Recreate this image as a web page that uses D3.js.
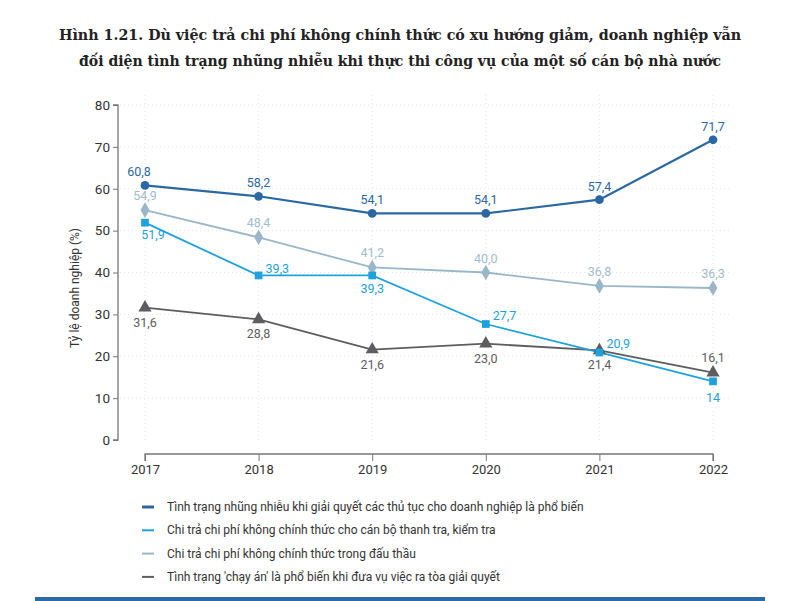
<!DOCTYPE html>
<html><head><meta charset="utf-8">
<script src="https://cdn.jsdelivr.net/npm/d3@7"></script>
<style>body{margin:0;background:#fff}svg{display:block}</style>
</head><body>
<svg id="c" width="800" height="601"></svg>
<script>
const years = ["2017","2018","2019","2020","2021","2022"];
const yTicks = [0,10,20,30,40,50,60,70,80];
const titleLines = ["Hình 1.21. Dù việc trả chi phí không chính thức có xu hướng giảm, doanh nghiệp vẫn",
                    "đối diện tình trạng nhũng nhiễu khi thực thi công vụ của một số cán bộ nhà nước"];
const yLabel = "Tỷ lệ doanh nghiệp (%)";
const seriesNames = ["Tình trạng nhũng nhiễu khi giải quyết các thủ tục cho doanh nghiệp là phổ biến",
  "Chi trả chi phí không chính thức cho cán bộ thanh tra, kiểm tra",
  "Chi trả chi phí không chính thức trong đấu thầu",
  "Tình trạng 'chạy án' là phổ biến khi đưa vụ việc ra tòa giải quyết"];
const s1 = [60.8,58.2,54.1,54.1,57.4,71.7];
const s2 = [51.9,39.3,39.3,27.7,20.9,14];
const s3 = [54.9,48.4,41.2,40.0,36.8,36.3];
const s4 = [31.6,28.8,21.6,23.0,21.4,16.1];
const s1Labels = ["60,8","58,2","54,1","54,1","57,4","71,7"];
const s2Labels = ["51,9","39,3","39,3","27,7","20,9","14"];
const s3Labels = ["54,9","48,4","41,2","40,0","36,8","36,3"];
const s4Labels = ["31,6","28,8","21,6","23,0","21,4","16,1"];

const colors = ["#2b68a3","#1ea2dd","#9ab6c9","#5d5d5f"];
const svg = d3.select("#c");
const font = "'Roboto',sans-serif";

// title
svg.append("g").selectAll("text").data(titleLines).join("text")
  .attr("x",400).attr("y",(d,i)=>40+i*26).attr("text-anchor","middle")
  .attr("font-family","'DejaVu Serif',serif").attr("font-weight","bold")
  .attr("font-size",15.5).attr("fill","#222").attr("textLength",(d,i)=>i?642:682)
  .attr("lengthAdjust","spacingAndGlyphs").text(d=>d);

const x = d3.scalePoint().domain(years).range([145,713]);
const y = d3.scaleLinear().domain([0,80]).range([440,105]);

// grid
const grid = svg.append("g").attr("stroke","#e2e6ea").attr("stroke-dasharray","1,3").attr("stroke-width",1);
grid.selectAll("line.h").data(yTicks.slice(1)).join("line")
  .attr("x1",120).attr("x2",730).attr("y1",d=>y(d)).attr("y2",d=>y(d));
grid.selectAll("line.v").data(years).join("line")
  .attr("x1",d=>x(d)).attr("x2",d=>x(d)).attr("y1",95).attr("y2",440);

// y axis
const ya = svg.append("g").attr("transform","translate(118,0)")
  .call(d3.axisLeft(y).tickValues(yTicks).tickSize(5).tickPadding(3));
ya.select(".domain").attr("stroke","#777").attr("stroke-width",1.3).attr("d","M-5,105H0V440H-5");
ya.selectAll(".tick line").attr("stroke","#777");
ya.selectAll("text").attr("font-family",font).attr("font-size",13.5).attr("fill","#333");

// x axis
const xa = svg.append("g").attr("transform","translate(0,454)")
  .call(d3.axisBottom(x).tickSize(7).tickPadding(4));
xa.select(".domain").attr("stroke","#777").attr("stroke-width",1.3).attr("d","M145,7V0H713V7");
xa.selectAll(".tick line").attr("stroke","#777");
xa.selectAll("text").attr("font-family",font).attr("font-size",13).attr("fill","#333");

// y label
svg.append("text").attr("transform","translate(79,288) rotate(-90)").attr("text-anchor","middle")
  .attr("font-family",font).attr("font-size",12).attr("fill","#333").text(yLabel);

const line = d3.line().x((d,i)=>x(years[i])).y(d=>y(d));
const data = [s1,s2,s3,s4];
const labels = [s1Labels,s2Labels,s3Labels,s4Labels];
[3,2,1,0].forEach(k=>{
  svg.append("path").datum(data[k]).attr("d",line).attr("fill","none")
    .attr("stroke",colors[k]).attr("stroke-width",k===0?2.2:1.8);
});
const shapes = [d3.symbolCircle,d3.symbolSquare,d3.symbolDiamond,d3.symbolTriangle];
const sizes = [60,60,70,75];
[3,2,1,0].forEach(k=>{
  svg.append("g").selectAll("path").data(data[k]).join("path")
    .attr("transform",(d,i)=>`translate(${x(years[i])},${y(d)})`)
    .attr("d",d3.symbol().type(shapes[k]).size(sizes[k]))
    .attr("fill",colors[k]);
});

const off = [
  [[-6,-9,"middle"],[0,-9,"middle"],[0,-9,"middle"],[0,-9,"middle"],[0,-9,"middle"],[0,-9,"middle"]],
  [[8,16,"middle"],[7,-2,"start"],[0,18,"middle"],[7,-4,"start"],[7,-4,"start"],[0,21,"middle"]],
  [[0,-10,"middle"],[0,-10,"middle"],[0,-10,"middle"],[0,-10,"middle"],[0,-10,"middle"],[0,-10,"middle"]],
  [[0,19,"middle"],[0,19,"middle"],[0,19,"middle"],[0,19,"middle"],[0,19,"middle"],[0,-11,"middle"]]
];
const lblColors = ["#2b68a3","#1ea2dd","#a3bccd","#5d5d5f"];
[0,1,2,3].forEach(k=>{
  svg.append("g").selectAll("text").data(data[k]).join("text")
    .attr("x",(d,i)=>x(years[i])+off[k][i][0]).attr("y",(d,i)=>y(d)+off[k][i][1])
    .attr("text-anchor",(d,i)=>off[k][i][2])
    .attr("font-family",font).attr("font-size",12.5).attr("fill",lblColors[k])
    .text((d,i)=>labels[k][i]);
});

// legend
const lg = svg.append("g");
seriesNames.forEach((n,i)=>{
  const yy = 511+i*23.3;
  lg.append("line").attr("x1",142).attr("x2",154).attr("y1",yy-4).attr("y2",yy-4)
    .attr("stroke",colors[i]).attr("stroke-width",i===0?3:2);
  lg.append("text").attr("x",167).attr("y",yy).attr("font-family",font).attr("font-size",12)
    .attr("fill","#333").text(n);
});

svg.append("rect").attr("x",35).attr("y",597).attr("width",730).attr("height",4).attr("fill","#2d6aa5");
</script>
</body></html>
